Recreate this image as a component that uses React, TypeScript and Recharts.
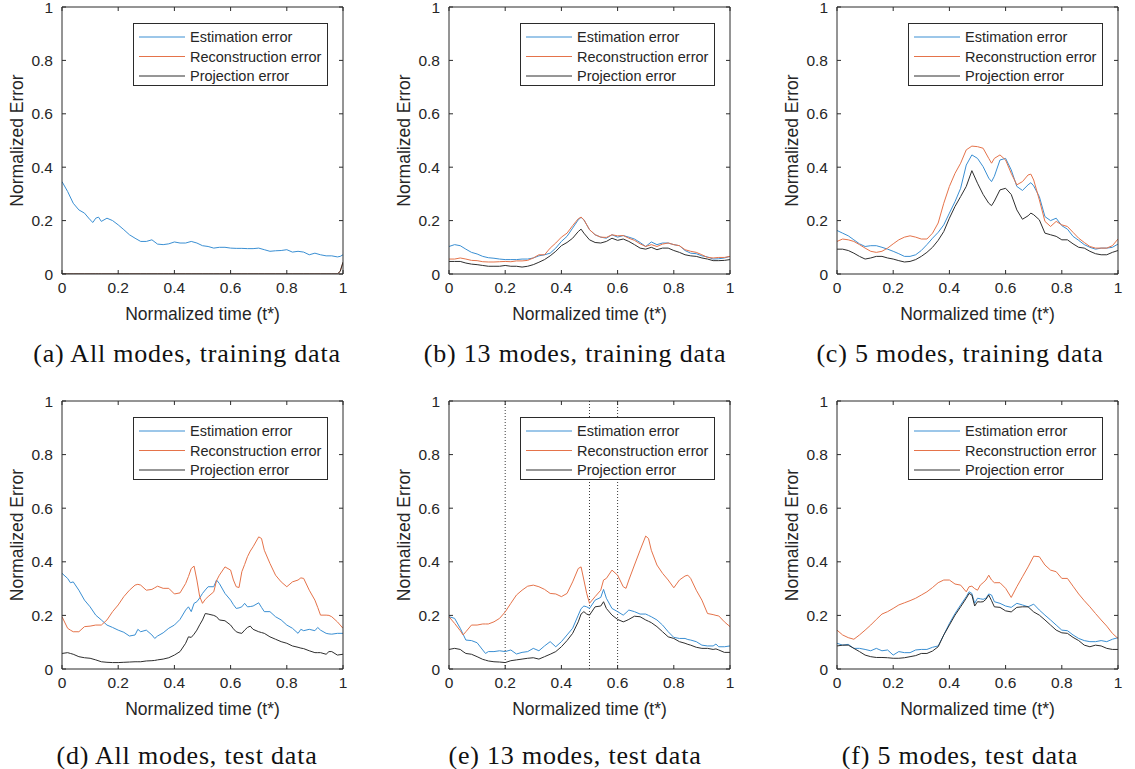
import React from 'react';
import { LineChart, Line, XAxis, YAxis, Legend, ReferenceLine } from 'recharts';

// ---------------- data ----------------
const AXIS_TICKS = [0, 0.2, 0.4, 0.6, 0.8, 1];
const SERIES_NAMES = ['Estimation error', 'Reconstruction error', 'Projection error'];
const X_LABEL = 'Normalized time (t*)';
const Y_LABEL = 'Normalized Error';
const CAPTIONS = [
  '(a) All modes, training data',
  '(b) 13 modes, training data',
  '(c) 5 modes, training data',
  '(d) All modes, test data',
  '(e) 13 modes, test data',
  '(f) 5 modes, test data',
];
const MARKERS_E = [0.2, 0.5, 0.6];

// (a) All modes, training data
const tA = [0, 0.02, 0.04, 0.06, 0.08, 0.1, 0.11, 0.12, 0.13, 0.14, 0.16, 0.18, 0.2, 0.22, 0.24, 0.26, 0.28, 0.3, 0.32, 0.34, 0.36, 0.38, 0.4, 0.42, 0.44, 0.46, 0.48, 0.5, 0.52, 0.54, 0.56, 0.58, 0.6, 0.62, 0.64, 0.66, 0.68, 0.7, 0.72, 0.74, 0.76, 0.78, 0.8, 0.82, 0.84, 0.86, 0.88, 0.9, 0.92, 0.94, 0.96, 0.98, 0.99, 1];
const estA = [0.346, 0.309, 0.265, 0.24, 0.228, 0.203, 0.193, 0.209, 0.213, 0.197, 0.209, 0.2, 0.184, 0.166, 0.147, 0.134, 0.122, 0.122, 0.128, 0.112, 0.11, 0.113, 0.12, 0.116, 0.116, 0.122, 0.116, 0.106, 0.103, 0.097, 0.1, 0.1, 0.097, 0.096, 0.096, 0.095, 0.095, 0.097, 0.091, 0.085, 0.087, 0.088, 0.091, 0.082, 0.085, 0.082, 0.072, 0.078, 0.072, 0.068, 0.068, 0.064, 0.066, 0.072];
const recA = [0, 0, 0, 0, 0, 0, 0, 0, 0, 0, 0, 0, 0, 0, 0, 0, 0, 0, 0, 0, 0, 0, 0, 0, 0, 0, 0, 0, 0, 0, 0, 0, 0, 0, 0, 0, 0, 0, 0, 0, 0, 0, 0, 0, 0, 0, 0, 0, 0, 0, 0, 0, 0.01, 0.044];
const projA = [0, 0, 0, 0, 0, 0, 0, 0, 0, 0, 0, 0, 0, 0, 0, 0, 0, 0, 0, 0, 0, 0, 0, 0, 0, 0, 0, 0, 0, 0, 0, 0, 0, 0, 0, 0, 0, 0, 0, 0, 0, 0, 0, 0, 0, 0, 0, 0, 0, 0, 0, 0, 0.01, 0.044];

// (b) 13 modes, training data
const tB = [0, 0.02, 0.04, 0.06, 0.08, 0.1, 0.12, 0.14, 0.16, 0.18, 0.2, 0.22, 0.24, 0.26, 0.28, 0.3, 0.32, 0.34, 0.36, 0.38, 0.4, 0.42, 0.44, 0.46, 0.47, 0.48, 0.5, 0.52, 0.54, 0.56, 0.58, 0.6, 0.62, 0.64, 0.66, 0.68, 0.7, 0.72, 0.74, 0.76, 0.78, 0.8, 0.82, 0.84, 0.86, 0.88, 0.9, 0.92, 0.94, 0.96, 0.98, 1];
const estB = [0.103, 0.11, 0.106, 0.093, 0.081, 0.075, 0.066, 0.061, 0.059, 0.056, 0.054, 0.054, 0.054, 0.056, 0.056, 0.06, 0.068, 0.072, 0.078, 0.097, 0.122, 0.141, 0.172, 0.203, 0.212, 0.203, 0.166, 0.147, 0.138, 0.134, 0.147, 0.138, 0.144, 0.138, 0.131, 0.118, 0.103, 0.12, 0.11, 0.116, 0.116, 0.11, 0.106, 0.088, 0.078, 0.076, 0.068, 0.064, 0.056, 0.057, 0.06, 0.066];
const recB = [0.056, 0.056, 0.06, 0.056, 0.051, 0.05, 0.046, 0.045, 0.045, 0.046, 0.047, 0.046, 0.049, 0.049, 0.051, 0.06, 0.072, 0.072, 0.097, 0.116, 0.138, 0.153, 0.181, 0.207, 0.213, 0.203, 0.166, 0.147, 0.138, 0.137, 0.147, 0.143, 0.144, 0.134, 0.126, 0.113, 0.103, 0.11, 0.103, 0.112, 0.116, 0.11, 0.106, 0.091, 0.085, 0.081, 0.072, 0.062, 0.06, 0.062, 0.062, 0.066];
const projB = [0.047, 0.047, 0.047, 0.041, 0.037, 0.035, 0.032, 0.029, 0.029, 0.029, 0.032, 0.029, 0.029, 0.026, 0.029, 0.035, 0.044, 0.054, 0.068, 0.085, 0.106, 0.118, 0.134, 0.159, 0.168, 0.153, 0.128, 0.118, 0.116, 0.122, 0.134, 0.126, 0.131, 0.122, 0.11, 0.097, 0.093, 0.1, 0.091, 0.097, 0.097, 0.088, 0.081, 0.072, 0.068, 0.066, 0.06, 0.056, 0.05, 0.05, 0.051, 0.054];

// (c) 5 modes, training data
const tC = [0, 0.02, 0.04, 0.06, 0.08, 0.1, 0.12, 0.14, 0.16, 0.18, 0.2, 0.22, 0.24, 0.26, 0.28, 0.3, 0.32, 0.34, 0.36, 0.38, 0.4, 0.42, 0.44, 0.46, 0.48, 0.5, 0.52, 0.54, 0.55, 0.56, 0.58, 0.6, 0.62, 0.64, 0.66, 0.68, 0.69, 0.7, 0.72, 0.74, 0.76, 0.78, 0.8, 0.82, 0.84, 0.86, 0.88, 0.9, 0.92, 0.94, 0.96, 0.98, 1];
const estC = [0.163, 0.153, 0.143, 0.128, 0.113, 0.103, 0.106, 0.106, 0.1, 0.093, 0.085, 0.076, 0.066, 0.066, 0.072, 0.088, 0.11, 0.134, 0.156, 0.184, 0.228, 0.271, 0.321, 0.408, 0.446, 0.433, 0.402, 0.359, 0.346, 0.366, 0.427, 0.433, 0.39, 0.328, 0.313, 0.334, 0.342, 0.33, 0.29, 0.215, 0.2, 0.209, 0.181, 0.168, 0.141, 0.126, 0.11, 0.1, 0.093, 0.097, 0.097, 0.1, 0.112];
const recC = [0.122, 0.131, 0.128, 0.122, 0.11, 0.097, 0.085, 0.081, 0.085, 0.097, 0.113, 0.128, 0.138, 0.143, 0.138, 0.131, 0.131, 0.153, 0.191, 0.265, 0.328, 0.377, 0.415, 0.465, 0.479, 0.477, 0.471, 0.433, 0.415, 0.433, 0.446, 0.427, 0.377, 0.334, 0.346, 0.371, 0.374, 0.352, 0.278, 0.197, 0.178, 0.197, 0.184, 0.178, 0.156, 0.134, 0.118, 0.103, 0.097, 0.097, 0.097, 0.106, 0.131];
const projC = [0.093, 0.093, 0.088, 0.078, 0.066, 0.056, 0.06, 0.066, 0.066, 0.06, 0.056, 0.05, 0.045, 0.047, 0.054, 0.066, 0.081, 0.1, 0.126, 0.159, 0.209, 0.253, 0.29, 0.328, 0.387, 0.34, 0.298, 0.265, 0.256, 0.273, 0.315, 0.321, 0.298, 0.24, 0.205, 0.218, 0.228, 0.222, 0.203, 0.153, 0.147, 0.141, 0.128, 0.128, 0.113, 0.1, 0.097, 0.085, 0.076, 0.072, 0.072, 0.081, 0.088];

// (d) All modes, test data
const tD = [0, 0.02, 0.03, 0.04, 0.06, 0.08, 0.1, 0.12, 0.14, 0.16, 0.18, 0.2, 0.22, 0.24, 0.26, 0.27, 0.28, 0.3, 0.32, 0.33, 0.34, 0.36, 0.38, 0.4, 0.42, 0.44, 0.45, 0.46, 0.47, 0.48, 0.49, 0.5, 0.51, 0.52, 0.54, 0.55, 0.56, 0.58, 0.6, 0.61, 0.62, 0.63, 0.64, 0.65, 0.66, 0.67, 0.68, 0.7, 0.71, 0.72, 0.74, 0.76, 0.78, 0.8, 0.82, 0.84, 0.85, 0.86, 0.88, 0.9, 0.91, 0.92, 0.94, 0.95, 0.96, 0.98, 1];
const estD = [0.357, 0.338, 0.322, 0.325, 0.294, 0.257, 0.232, 0.201, 0.183, 0.164, 0.155, 0.145, 0.137, 0.123, 0.127, 0.148, 0.139, 0.145, 0.127, 0.114, 0.123, 0.135, 0.152, 0.164, 0.185, 0.22, 0.232, 0.214, 0.245, 0.251, 0.265, 0.282, 0.295, 0.307, 0.307, 0.332, 0.319, 0.282, 0.257, 0.24, 0.226, 0.228, 0.232, 0.245, 0.232, 0.233, 0.235, 0.247, 0.23, 0.214, 0.214, 0.195, 0.183, 0.164, 0.152, 0.133, 0.148, 0.143, 0.148, 0.143, 0.155, 0.145, 0.133, 0.131, 0.13, 0.133, 0.133];
const recD = [0.195, 0.152, 0.145, 0.139, 0.139, 0.158, 0.16, 0.164, 0.164, 0.183, 0.214, 0.239, 0.27, 0.294, 0.313, 0.316, 0.313, 0.294, 0.297, 0.303, 0.309, 0.301, 0.301, 0.28, 0.284, 0.319, 0.345, 0.375, 0.384, 0.332, 0.27, 0.245, 0.26, 0.27, 0.288, 0.33, 0.35, 0.381, 0.369, 0.332, 0.307, 0.304, 0.363, 0.39, 0.419, 0.44, 0.456, 0.493, 0.487, 0.443, 0.394, 0.35, 0.325, 0.307, 0.325, 0.332, 0.34, 0.338, 0.294, 0.257, 0.23, 0.201, 0.201, 0.2, 0.195, 0.176, 0.152];
const projD = [0.058, 0.061, 0.058, 0.055, 0.046, 0.042, 0.04, 0.034, 0.027, 0.025, 0.024, 0.024, 0.025, 0.026, 0.027, 0.027, 0.027, 0.03, 0.031, 0.032, 0.034, 0.037, 0.042, 0.052, 0.065, 0.096, 0.12, 0.118, 0.13, 0.145, 0.165, 0.183, 0.207, 0.205, 0.2, 0.195, 0.183, 0.18, 0.164, 0.15, 0.139, 0.135, 0.133, 0.145, 0.155, 0.16, 0.148, 0.139, 0.136, 0.133, 0.12, 0.111, 0.102, 0.096, 0.086, 0.081, 0.078, 0.076, 0.068, 0.061, 0.061, 0.061, 0.055, 0.065, 0.065, 0.052, 0.055];

// (e) 13 modes, test data
const tE = [0, 0.02, 0.04, 0.05, 0.06, 0.08, 0.1, 0.12, 0.13, 0.14, 0.16, 0.18, 0.2, 0.22, 0.24, 0.26, 0.28, 0.3, 0.32, 0.34, 0.36, 0.38, 0.4, 0.42, 0.44, 0.46, 0.47, 0.48, 0.49, 0.5, 0.52, 0.54, 0.55, 0.56, 0.58, 0.6, 0.62, 0.63, 0.64, 0.66, 0.68, 0.7, 0.71, 0.72, 0.74, 0.76, 0.78, 0.8, 0.82, 0.84, 0.85, 0.86, 0.88, 0.9, 0.92, 0.94, 0.95, 0.96, 0.98, 1];
const estE = [0.195, 0.189, 0.152, 0.13, 0.108, 0.106, 0.098, 0.071, 0.058, 0.065, 0.065, 0.068, 0.065, 0.071, 0.056, 0.062, 0.065, 0.077, 0.068, 0.086, 0.102, 0.083, 0.102, 0.127, 0.152, 0.201, 0.225, 0.235, 0.232, 0.226, 0.257, 0.267, 0.297, 0.264, 0.226, 0.214, 0.201, 0.21, 0.22, 0.214, 0.205, 0.205, 0.2, 0.195, 0.183, 0.164, 0.139, 0.118, 0.114, 0.114, 0.11, 0.108, 0.102, 0.089, 0.086, 0.086, 0.093, 0.083, 0.083, 0.086];
const recE = [0.195, 0.17, 0.143, 0.127, 0.139, 0.164, 0.164, 0.168, 0.168, 0.168, 0.176, 0.189, 0.213, 0.245, 0.276, 0.294, 0.309, 0.313, 0.307, 0.297, 0.282, 0.28, 0.27, 0.282, 0.325, 0.375, 0.381, 0.332, 0.282, 0.245, 0.27, 0.294, 0.332, 0.338, 0.369, 0.35, 0.307, 0.301, 0.332, 0.388, 0.443, 0.496, 0.487, 0.443, 0.388, 0.357, 0.332, 0.303, 0.332, 0.347, 0.35, 0.338, 0.294, 0.257, 0.207, 0.203, 0.2, 0.198, 0.176, 0.158];
const projE = [0.073, 0.077, 0.073, 0.065, 0.058, 0.055, 0.046, 0.036, 0.033, 0.03, 0.027, 0.026, 0.024, 0.031, 0.034, 0.037, 0.04, 0.042, 0.037, 0.046, 0.055, 0.065, 0.083, 0.106, 0.133, 0.176, 0.205, 0.214, 0.205, 0.201, 0.232, 0.235, 0.251, 0.226, 0.201, 0.185, 0.176, 0.18, 0.185, 0.197, 0.195, 0.183, 0.178, 0.173, 0.158, 0.139, 0.12, 0.114, 0.102, 0.096, 0.092, 0.089, 0.081, 0.077, 0.077, 0.073, 0.075, 0.071, 0.062, 0.062];

// (f) 5 modes, test data
const tF = [0, 0.02, 0.04, 0.06, 0.08, 0.1, 0.12, 0.14, 0.16, 0.18, 0.2, 0.22, 0.24, 0.26, 0.28, 0.3, 0.32, 0.34, 0.36, 0.38, 0.4, 0.42, 0.44, 0.46, 0.47, 0.48, 0.49, 0.5, 0.51, 0.52, 0.53, 0.54, 0.55, 0.56, 0.58, 0.6, 0.62, 0.64, 0.66, 0.68, 0.7, 0.72, 0.74, 0.76, 0.78, 0.8, 0.82, 0.84, 0.86, 0.88, 0.9, 0.92, 0.94, 0.96, 0.98, 1];
const estF = [0.096, 0.089, 0.092, 0.077, 0.077, 0.073, 0.068, 0.077, 0.068, 0.071, 0.052, 0.065, 0.061, 0.061, 0.071, 0.073, 0.073, 0.081, 0.086, 0.127, 0.17, 0.207, 0.239, 0.27, 0.288, 0.282, 0.245, 0.264, 0.262, 0.26, 0.264, 0.28, 0.276, 0.251, 0.245, 0.235, 0.23, 0.245, 0.239, 0.232, 0.242, 0.22, 0.201, 0.183, 0.164, 0.145, 0.143, 0.127, 0.114, 0.106, 0.102, 0.102, 0.106, 0.102, 0.111, 0.117];
const recF = [0.145, 0.127, 0.117, 0.111, 0.127, 0.145, 0.164, 0.185, 0.205, 0.214, 0.226, 0.239, 0.247, 0.255, 0.264, 0.276, 0.288, 0.304, 0.322, 0.332, 0.332, 0.317, 0.313, 0.288, 0.307, 0.309, 0.3, 0.294, 0.313, 0.322, 0.332, 0.35, 0.332, 0.322, 0.322, 0.301, 0.267, 0.307, 0.344, 0.381, 0.421, 0.419, 0.388, 0.369, 0.363, 0.338, 0.338, 0.309, 0.28, 0.255, 0.232, 0.207, 0.183, 0.16, 0.133, 0.114];
const projF = [0.086, 0.089, 0.089, 0.077, 0.065, 0.052, 0.046, 0.043, 0.043, 0.042, 0.04, 0.04, 0.042, 0.046, 0.05, 0.058, 0.058, 0.067, 0.083, 0.127, 0.164, 0.201, 0.232, 0.264, 0.282, 0.276, 0.235, 0.251, 0.25, 0.251, 0.26, 0.276, 0.255, 0.232, 0.23, 0.217, 0.213, 0.23, 0.232, 0.232, 0.213, 0.201, 0.183, 0.164, 0.145, 0.135, 0.133, 0.118, 0.106, 0.089, 0.083, 0.089, 0.086, 0.077, 0.073, 0.073];

// ---------------- styling / layout ----------------
const COLORS = ['#3a8fd3', '#e5734a', '#2e2e2e'];
const AX = '#2b2b2b';
const TXT = '#262626';
const SANS = '"Liberation Sans", Arial, Helvetica, sans-serif';
const SERIF = '"Liberation Serif", "Times New Roman", serif';

const YW = 70; // left axis band
const MT = 10; // top margin
const MR = 12; // right margin
const XH = 55; // bottom axis band
const PW = 281; // plot width
const TL = 4; // tick length
const COL_LEFT = [62, 449, 837];
const ROW_TOP = [7, 401];
const ROW_H = [267, 268];
const CAP_CENTER = [187, 575, 960];
const CAP_TOP = [341, 743];

const fmt = (v: number) => String(v);

const LeftTick = (p: any) => (
  <g>
    <line x1={p.x} x2={p.x + TL} y1={p.y} y2={p.y} stroke={AX} strokeWidth={1} />
    <text x={p.x - 9} y={p.y + 5.5} textAnchor="end" fontSize={15.5} fill={TXT} fontFamily={SANS}>
      {fmt(p.payload.value)}
    </text>
  </g>
);
const RightTick = (p: any) => (
  <line x1={p.x} x2={p.x - TL} y1={p.y} y2={p.y} stroke={AX} strokeWidth={1} />
);
const BottomTick = (p: any) => (
  <g>
    <line x1={p.x} x2={p.x} y1={p.y} y2={p.y - TL} stroke={AX} strokeWidth={1} />
    <text x={p.x} y={p.y + 19} textAnchor="middle" fontSize={15.5} fill={TXT} fontFamily={SANS}>
      {fmt(p.payload.value)}
    </text>
  </g>
);
const TopTick = (p: any) => (
  <line x1={p.x} x2={p.x} y1={p.y} y2={p.y + TL} stroke={AX} strokeWidth={1} />
);

const XLabelContent = (props: any) => {
  const vb = props.viewBox || {};
  const cx = (vb.x ?? YW) + (vb.width ?? PW) / 2;
  const y = (vb.y ?? 0) + 46;
  return (
    <text x={cx} y={y} textAnchor="middle" fontSize={17.5} fill={TXT} fontFamily={SANS}>
      {X_LABEL}
    </text>
  );
};
const YLabelContent = (props: any) => {
  const vb = props.viewBox || {};
  const cx = (vb.x ?? 0) + (vb.width ?? YW) - 45;
  const cy = (vb.y ?? MT) + (vb.height ?? 267) / 2;
  return (
    <text
      x={cx}
      y={cy}
      transform={`rotate(-90 ${cx} ${cy})`}
      textAnchor="middle"
      dominantBaseline="central"
      fontSize={17.5}
      fill={TXT}
      fontFamily={SANS}
    >
      {Y_LABEL}
    </text>
  );
};

const LEG_W = 195;
const LEG_H = 63;
const LegendBox = () => (
  <svg width={LEG_W} height={LEG_H} style={{ display: 'block' }}>
    <rect x={0.5} y={0.5} width={LEG_W - 1} height={LEG_H - 1} fill="#fff" stroke={AX} strokeWidth={1} />
    {SERIES_NAMES.map((name, i) => {
      const cy = 14 + i * 19.5;
      return (
        <g key={name}>
          <line x1={6} x2={52} y1={cy} y2={cy} stroke={COLORS[i]} strokeWidth={1} />
          <text x={57} y={cy + 5} fontSize={14.5} fill={TXT} fontFamily={SANS}>
            {name}
          </text>
        </g>
      );
    })}
  </svg>
);

type PanelProps = {
  t: number[];
  est: number[];
  rec: number[];
  proj: number[];
  col: number;
  row: number;
  markers?: number[];
};

function Panel({ t, est, rec, proj, col, row, markers = [] }: PanelProps) {
  const rows = t.map((tv, i) => ({ t: tv, est: est[i], rec: rec[i], proj: proj[i] }));
  const plotH = ROW_H[row];
  const W = YW + PW + MR;
  const H = MT + plotH + XH;
  const axisCommon = {
    type: 'number' as const,
    domain: [0, 1],
    ticks: AXIS_TICKS,
    interval: 0 as const,
    tickSize: 0,
    tickMargin: 0,
    tickLine: false,
    allowDataOverflow: true,
    axisLine: { stroke: AX, strokeWidth: 1 },
  };
  return (
    <div style={{ position: 'absolute', left: COL_LEFT[col] - YW, top: ROW_TOP[row] - MT, width: W, height: H }}>
      <LineChart width={W} height={H} data={rows} margin={{ top: MT - 1, right: MR - 1, bottom: 0, left: 0 }}>
        <XAxis {...axisCommon} dataKey="t" height={XH} tick={BottomTick} label={{ content: XLabelContent }} />
        <XAxis {...axisCommon} dataKey="t" xAxisId="top" orientation="top" height={1} tick={TopTick} />
        <YAxis {...axisCommon} width={YW} tick={LeftTick} label={{ content: YLabelContent }} />
        <YAxis {...axisCommon} yAxisId="right" orientation="right" width={1} tick={RightTick} />
        {markers.map((m) => (
          <ReferenceLine key={m} x={m} stroke="#3a3a3a" strokeWidth={1} strokeDasharray="1 2" />
        ))}
        <Line dataKey="est" name={SERIES_NAMES[0]} stroke={COLORS[0]} strokeWidth={1} dot={false} activeDot={false} isAnimationActive={false} type="linear" />
        <Line dataKey="rec" name={SERIES_NAMES[1]} stroke={COLORS[1]} strokeWidth={1} dot={false} activeDot={false} isAnimationActive={false} type="linear" />
        <Line dataKey="proj" name={SERIES_NAMES[2]} stroke={COLORS[2]} strokeWidth={1} dot={false} activeDot={false} isAnimationActive={false} type="linear" />
        <Legend
          layout="vertical"
          align="center"
          verticalAlign="middle"
          content={() => <LegendBox />}
          wrapperStyle={{ position: 'absolute', left: YW + PW - 15 - LEG_W, top: MT + 16, width: LEG_W, height: LEG_H, margin: 0, padding: 0 }}
        />
      </LineChart>
    </div>
  );
}

const Caption = ({ text, col, row }: { text: string; col: number; row: number }) => (
  <div
    style={{
      position: 'absolute',
      left: CAP_CENTER[col] - 200,
      top: CAP_TOP[row],
      width: 400,
      textAlign: 'center',
      fontFamily: SERIF,
      fontSize: 26,
      lineHeight: '26px',
      letterSpacing: 0.8,
      color: '#111',
      whiteSpace: 'nowrap',
    }}
  >
    {text}
  </div>
);

export default function App() {
  return (
    <div style={{ position: 'absolute', left: 0, top: 0, width: 1135, height: 769, background: '#fff', overflow: 'hidden' }}>
      <Panel t={tA} est={estA} rec={recA} proj={projA} col={0} row={0} />
      <Panel t={tB} est={estB} rec={recB} proj={projB} col={1} row={0} />
      <Panel t={tC} est={estC} rec={recC} proj={projC} col={2} row={0} />
      <Panel t={tD} est={estD} rec={recD} proj={projD} col={0} row={1} />
      <Panel t={tE} est={estE} rec={recE} proj={projE} col={1} row={1} markers={MARKERS_E} />
      <Panel t={tF} est={estF} rec={recF} proj={projF} col={2} row={1} />
      {CAPTIONS.map((c, i) => (
        <Caption key={c} text={c} col={i % 3} row={Math.floor(i / 3)} />
      ))}
    </div>
  );
}
